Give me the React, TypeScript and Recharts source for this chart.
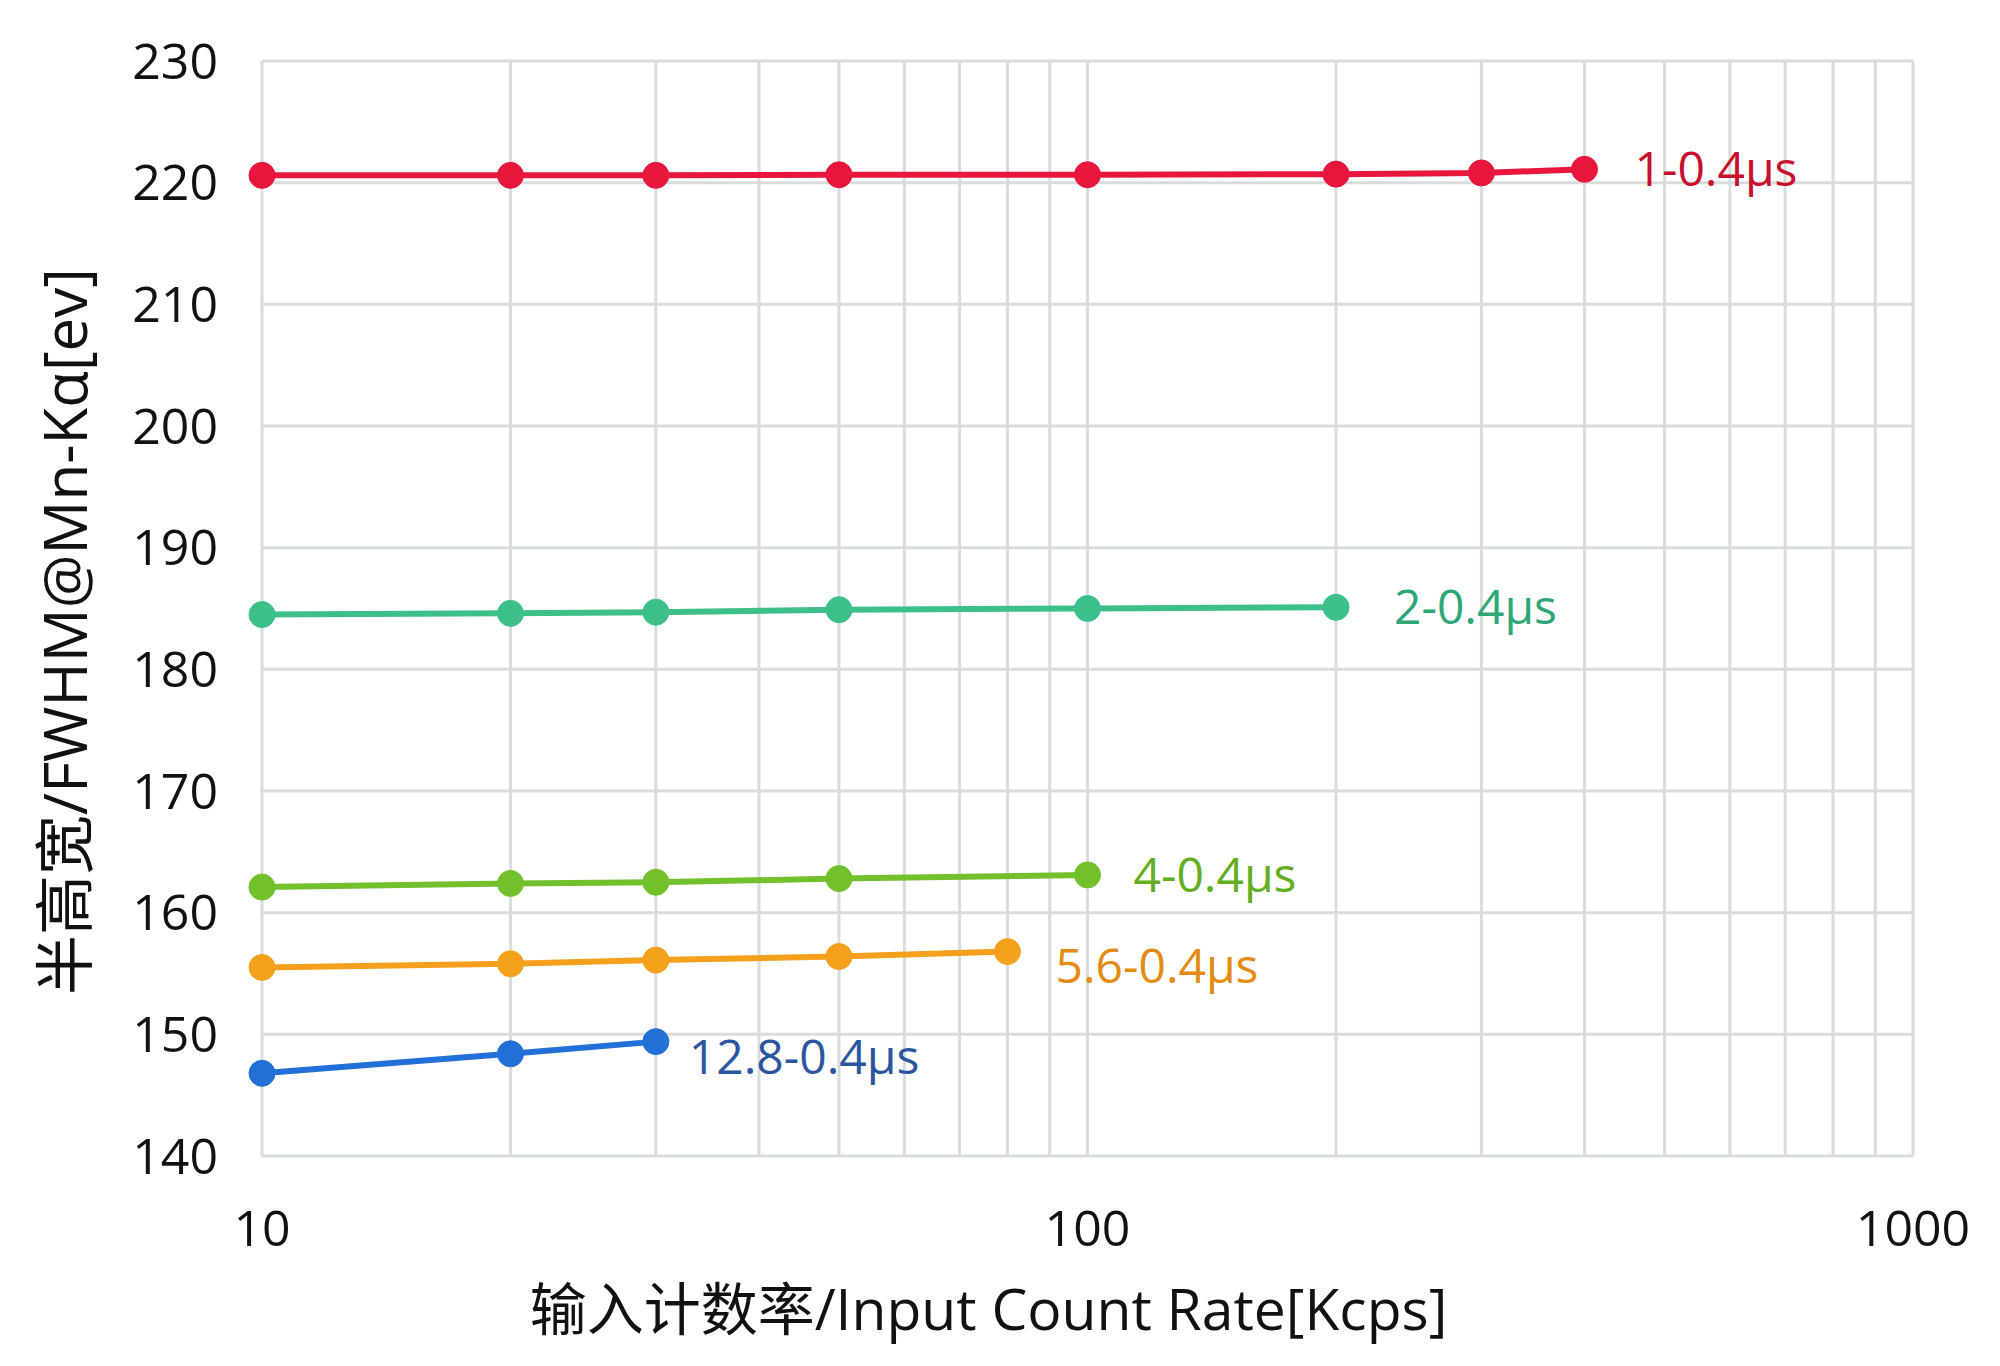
import React from 'react';
import { LineChart, Line, XAxis, YAxis, CartesianGrid, Label } from 'recharts';

const xRed = [10, 20, 30, 50, 100, 200, 300, 400];
const yRed = [220.6, 220.6, 220.6, 220.65, 220.65, 220.7, 220.8, 221.1];
const xGreen = [10, 20, 30, 50, 100, 200];
const yGreen = [184.5, 184.6, 184.7, 184.9, 185.0, 185.1];
const xLime = [10, 20, 30, 50, 100];
const yLime = [162.1, 162.4, 162.5, 162.8, 163.1];
const xOrange = [10, 20, 30, 50, 80];
const yOrange = [155.5, 155.8, 156.1, 156.4, 156.8];
const xBlue = [10, 20, 30];
const yBlue = [146.8, 148.4, 149.4];

const seriesNames = ['1-0.4μs', '2-0.4μs', '4-0.4μs', '5.6-0.4μs', '12.8-0.4μs'];

const xTicks = [10, 20, 30, 40, 50, 60, 70, 80, 90, 100, 200, 300, 400, 500, 600, 700, 800, 900, 1000];
const xLabelTicks = [10, 100, 1000];
const yTicks = [140, 150, 160, 170, 180, 190, 200, 210, 220, 230];

const xTitle = '输入计数率/Input Count Rate[Kcps]';
const yTitle = '半高宽/FWHM@Mn-Kα[ev]';

const toData = (xs: number[], ys: number[]) => xs.map((x, i) => ({ x, y: ys[i] }));

const styles = [
  { line: '#e8163d', text: '#c8102e', dx: 50, dy: 0 },
  { line: '#3dbf8a', text: '#2ea676', dx: 58, dy: 0 },
  { line: '#72c02c', text: '#62ae20', dx: 46, dy: 0 },
  { line: '#f5a01c', text: '#e38b12', dx: 48, dy: 15 },
  { line: '#2170d8', text: '#2a56a0', dx: 33, dy: 16 },
];

const seriesData = [
  toData(xRed, yRed),
  toData(xGreen, yGreen),
  toData(xLime, yLime),
  toData(xOrange, yOrange),
  toData(xBlue, yBlue),
];

const FONT = '"Open Sans", "Noto Sans", "Noto Sans CJK SC", sans-serif';

export default function App() {
  return (
    <div style={{ position: 'absolute', left: 0, top: 0, width: 2000, height: 1366, background: '#fff' }}>
      <LineChart width={2000} height={1366} margin={{ top: 61, right: 87, bottom: 0, left: 0 }}>
        <CartesianGrid stroke="#d9dcdc" strokeWidth={3} />
        <XAxis
          dataKey="x"
          type="number"
          scale="log"
          domain={[10, 1000]}
          ticks={xTicks}
          interval={0}
          axisLine={false}
          tickLine={false}
          tickSize={0}
          tickMargin={54}
          height={210}
          tickFormatter={(v: number) => (xLabelTicks.includes(v) ? String(v) : '')}
          tick={{ fill: '#111', fontSize: 50, fontFamily: FONT }}
        >
          <Label
            content={(props: any) => {
              const vb = props.viewBox || {};
              const cx = vb.x + vb.width / 2 - 99;
              return (
                <text
                  x={cx}
                  y={vb.y + 154}
                  dy="0.35em"
                  textAnchor="middle"
                  fill="#111"
                  fontSize={57}
                  fontFamily={FONT}
                >
                  {xTitle}
                </text>
              );
            }}
          />
        </XAxis>
        <YAxis
          type="number"
          domain={[140, 230]}
          ticks={yTicks}
          interval={0}
          width={262}
          axisLine={false}
          tickLine={false}
          tickSize={0}
          tickMargin={44}
          tick={{ fill: '#111', fontSize: 50, fontFamily: FONT }}
        >
          <Label
            content={(props: any) => {
              const vb = props.viewBox || {};
              const cx = vb.x + 66;
              const cy = vb.y + vb.height / 2 + 23;
              return (
                <text
                  x={cx}
                  y={cy}
                  dy="0.35em"
                  transform={`rotate(-90, ${cx}, ${cy})`}
                  textAnchor="middle"
                  fill="#111"
                  fontSize={60}
                  fontFamily={FONT}
                >
                  {yTitle}
                </text>
              );
            }}
          />
        </YAxis>
        {seriesData.map((d, si) => (
          <Line
            key={seriesNames[si]}
            data={d}
            dataKey="y"
            name={seriesNames[si]}
            stroke={styles[si].line}
            strokeWidth={6}
            dot={{ r: 13, fill: styles[si].line, stroke: styles[si].line, strokeWidth: 1 }}
            activeDot={false}
            isAnimationActive={false}
            label={(props: any) => {
              if (props.index !== d.length - 1) return null;
              return (
                <text
                  key={`lbl-${si}`}
                  x={props.x + styles[si].dx}
                  y={props.y + styles[si].dy}
                  dy="0.35em"
                  fill={styles[si].text}
                  fontSize={48}
                  fontFamily={FONT}
                  textAnchor="start"
                >
                  {seriesNames[si]}
                </text>
              );
            }}
          />
        ))}
      </LineChart>
    </div>
  );
}
